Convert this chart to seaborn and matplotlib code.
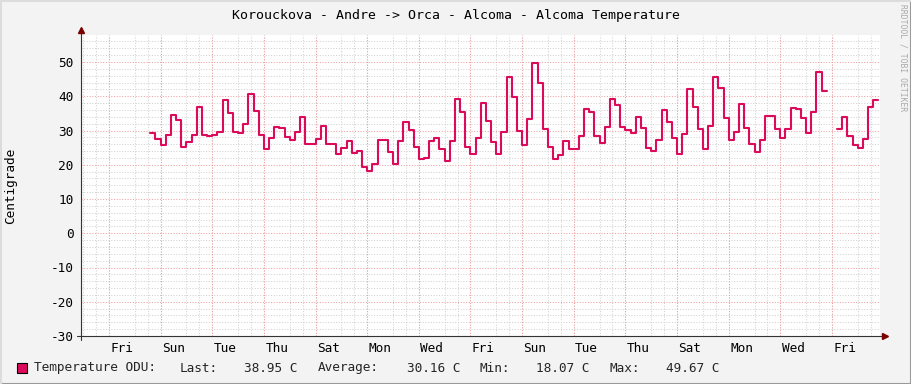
import numpy as np
import pandas as pd
import matplotlib
matplotlib.use("Agg")
import matplotlib.pyplot as plt
from matplotlib.ticker import MultipleLocator
from matplotlib.patches import Rectangle
from matplotlib.lines import Line2D
import seaborn as sns

# ---------------- data ----------------
title = "Korouckova - Andre -> Orca - Alcoma - Alcoma Temperature"
y_label = "Centigrade"
series_name = "Temperature ODU:"
day_labels = ["Fri", "Sun", "Tue", "Thu", "Sat", "Mon", "Wed",
              "Fri", "Sun", "Tue", "Thu", "Sat", "Mon", "Wed", "Fri"]
legend_stats = [("Last:", "38.95 C"), ("Average:", "30.16 C"),
                ("Min:", "18.07 C"), ("Max:", "49.67 C")]
watermark = "RRDTOOL / TOBI OETIKER"

start_day = 1.6      # days after the first labelled Friday 00:00
step_days = 0.2      # sample interval (days)
temps = [
    29.2, 27.5, 25.9, 28.6, 34.5, 33.0, 25.1, 26.5, 28.6, 36.9,
    28.6, 28.3, 28.8, 29.5, 38.8, 35.0, 29.5, 29.2, 32.0, 40.6,
    35.6, 28.8, 24.5,
    27.9, 31.0, 30.8, 28.1, 27.2, 29.6, 33.9, 26.1, 26.1, 27.4,
    31.3, 26.1, 26.1, 23.2, 24.8, 26.9, 23.4, 24.0, 19.4, 18.07,
    20.2, 27.1, 27.1, 23.8, 20.2, 26.9, 32.6, 30.1,
    25.3, 21.6, 22.0, 27.0, 27.8, 24.6, 21.0, 26.9, 39.1, 35.5,
    25.2, 23.2, 27.8, 38.1, 32.9, 26.5, 23.2, 29.7,
    45.6, 39.7, 30.0, 25.8, 33.4, 49.67, 44.0, 30.4, 25.2, 21.8,
    22.8, 26.9, 24.5, 24.5, 28.3, 36.3, 35.3, 28.3, 26.4, 31.0,
    39.2, 37.4, 31.0, 30.1,
    29.4, 34.0, 30.8, 24.8, 23.9, 27.2, 35.9, 32.4, 27.8, 23.1,
    28.9, 42.0, 37.0, 30.4, 24.5, 31.3, 45.7, 42.5, 33.7, 27.2,
    29.7, 37.8, 30.8,
    26.1, 23.7, 27.2, 34.2, 34.2, 30.3, 27.8, 30.4, 36.5, 36.3,
    33.7, 29.2, 35.3, 47.1, 41.5,
    np.nan, np.nan,
    30.4, 33.9, 28.4, 25.8, 24.8, 27.4, 36.8, 38.95,
]

# ---------------- build step segments ----------------
vals = np.array(temps, dtype=float)
times = start_day + step_days * np.arange(len(vals))
valid = ~np.isnan(vals)
seg_id = np.cumsum(~valid)
rows = []
for s in np.unique(seg_id[valid]):
    m = valid & (seg_id == s)
    t = times[m]
    v = vals[m]
    t = np.append(t, t[-1] + step_days)   # close the last interval
    v = np.append(v, v[-1])
    rows.append(pd.DataFrame({"t": t, "v": v, "seg": s}))
df = pd.concat(rows, ignore_index=True)

# ---------------- style ----------------
sns.set_style("white")
plt.rcParams["font.family"] = ["DejaVu Sans Mono", "DejaVu Sans"]
plt.rcParams["axes.unicode_minus"] = False

W, H = 911, 384
fig = plt.figure(figsize=(W / 100, H / 100), dpi=100, facecolor="#F3F3F3")
ax = fig.add_axes([81 / W, (H - 336) / H, (880 - 81) / W, (336 - 35) / H])
ax.set_facecolor("white")

line_color = "#DC0A5A"
sns.lineplot(data=df, x="t", y="v", units="seg", estimator=None,
             drawstyle="steps-post", color=line_color, linewidth=1.5,
             ax=ax, zorder=5)

xmin, xmax = (81 - 109) / 25.82, (880 - 109) / 25.82
ymin, ymax = -30, -30 + 301 / 3.425
ax.set_xlim(xmin, xmax)
ax.set_ylim(ymin, ymax)

for sp in ax.spines.values():
    sp.set_visible(False)

# ticks
ax.set_xticks(np.arange(0.5, 0.5 + 2 * len(day_labels), 2))
ax.set_xticklabels(day_labels)
ax.xaxis.set_minor_locator(MultipleLocator(0.5))
ax.yaxis.set_major_locator(MultipleLocator(10))
ax.yaxis.set_minor_locator(MultipleLocator(2))
ax.tick_params(axis="x", which="both", length=0, pad=4, labelsize=9.2, colors="black")
ax.tick_params(axis="y", which="both", length=0, pad=5.5, labelsize=9.2, colors="black")
ax.set_xlabel("")
ax.set_ylabel("")

dots = (0, (1, 1.6))
ax.grid(False)
ax.grid(True, which="minor", axis="both", color="#D2D2D2", linestyle=dots, linewidth=0.75)
ax.grid(True, which="major", axis="y", color="#F2A0A0", linestyle=dots, linewidth=0.75)
for d in np.arange(0, xmax, 2):
    ax.axvline(d, color="#F2A0A0", linestyle=dots, linewidth=0.75, zorder=1.5)
ax.set_axisbelow(True)

# axes lines with arrows
ax.plot([-0.005, 1.004], [0, 0], transform=ax.transAxes, clip_on=False,
        color="#333333", linewidth=0.8, zorder=6)
ax.plot([0, 0], [-0.012, 1.01], transform=ax.transAxes, clip_on=False,
        color="#333333", linewidth=0.8, zorder=6)
ax.plot([1.006], [0], marker=">", markersize=4, color="#7A0000",
        transform=ax.transAxes, clip_on=False, zorder=7, linestyle="none")
ax.plot([0], [1.015], marker="^", markersize=4, color="#7A0000",
        transform=ax.transAxes, clip_on=False, zorder=7, linestyle="none")

# texts
fig.text(455.5 / W, 1 - 15 / H, title, ha="center", va="center", fontsize=9.5, color="black")
fig.text(11 / W, 1 - 185.5 / H, y_label, ha="center", va="center", rotation=90,
         fontsize=9.2, color="black")
fig.text(903 / W, 1 - 4 / H, watermark, ha="center", va="top", rotation=270,
         fontsize=5.8, color="#AAAAAA")

# legend
fig.add_artist(Rectangle((17 / W, (H - 373) / H), 10 / W, 10 / H,
                         facecolor=line_color, edgecolor="black", linewidth=0.8,
                         transform=fig.transFigure))
ly = 1 - 368 / H
fig.text(34 / W, ly, series_name, ha="left", va="center", fontsize=9.2)
stat_x = [(180, 244), (318, 407), (480, 536), (610, 666)]
for (lab, val), (xl, xv) in zip(legend_stats, stat_x):
    fig.text(xl / W, ly, lab, ha="left", va="center", fontsize=9.2)
    fig.text(xv / W, ly, val, ha="left", va="center", fontsize=9.2)

# frame shading
fig.add_artist(Line2D([0, 1], [0.5 / H, 0.5 / H], color="#9A9A9A", linewidth=1.5,
                      transform=fig.transFigure))
fig.add_artist(Line2D([1 - 0.5 / W, 1 - 0.5 / W], [0, 1], color="#9A9A9A", linewidth=1.5,
                      transform=fig.transFigure))
fig.add_artist(Line2D([0, 1], [1 - 0.5 / H, 1 - 0.5 / H], color="#DCDCDC", linewidth=1.5,
                      transform=fig.transFigure))
fig.add_artist(Line2D([0.5 / W, 0.5 / W], [0, 1], color="#DCDCDC", linewidth=1.5,
                      transform=fig.transFigure))

fig.savefig("out.png", dpi=100, facecolor=fig.get_facecolor())
